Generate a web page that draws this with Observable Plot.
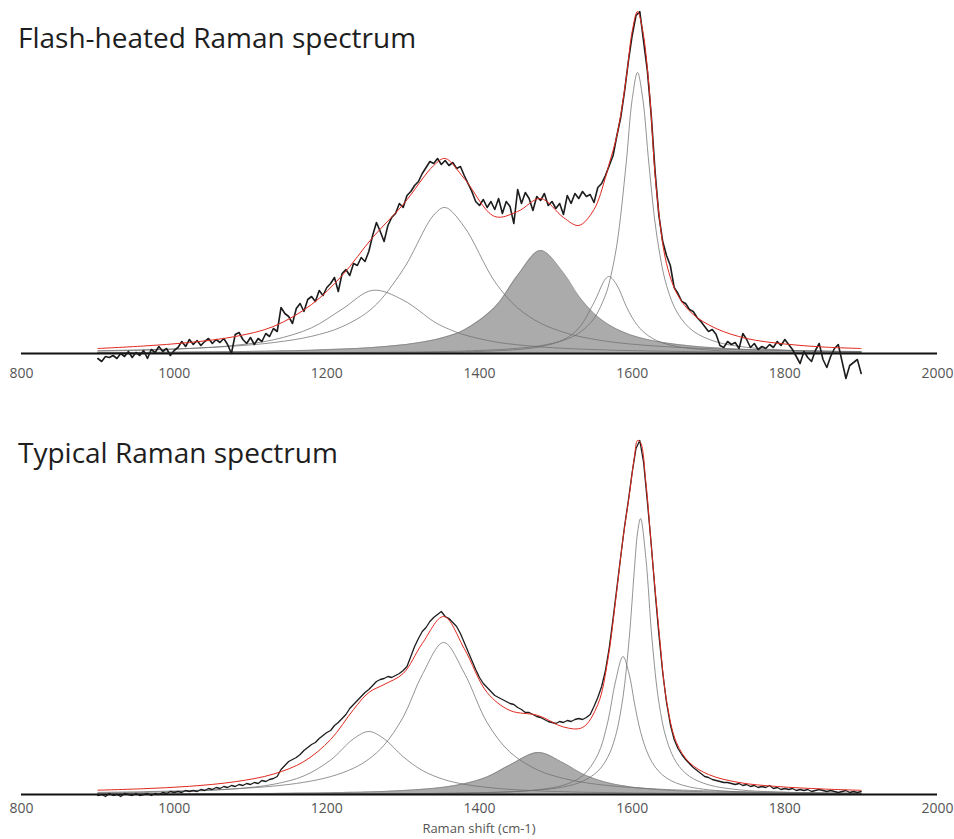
<!DOCTYPE html>
<html lang="en">
<head>
<meta charset="utf-8">
<script src="https://cdn.jsdelivr.net/npm/d3@7"></script>
<script src="https://cdn.jsdelivr.net/npm/@observablehq/plot@0.6"></script>
<style>
  html, body { margin: 0; padding: 0; background: #fff; }
  #wrap { position: relative; width: 954px; height: 839px; overflow: hidden; font-family: "Open Sans", sans-serif; }
  .panel { position: absolute; left: 0; }
  .ptitle { position: absolute; left: 18px; font-size: 28px; line-height: 1; color: #1e1e1e; white-space: nowrap; }
  #xtitle { position: absolute; left: 21px; width: 916px; text-align: center; font-size: 13px; line-height: 1; color: #555; }
</style>
</head>
<body>
<div id="wrap"></div>
<script>
// ---------- shared ----------
const xTicks = [800, 1000, 1200, 1400, 1600, 1800, 2000];
const panelTitles = ["Flash-heated Raman spectrum", "Typical Raman spectrum"];
const xTitle = "Raman shift (cm-1)";
const specStart = 900, specStep = 5;   // measured spectrum sampled every 5 cm-1 from 900

// ---------- panel 1 : flash-heated ----------
const xs1 = [900,960,1020,1080,1130,1180,1220,1260,1300,1340,1355,1380,1420,1450,1480,1510,1530,1550,1565,1570,1580,1592,1600,1607,1614,1622,1632,1645,1660,1680,1710,1750,1800,1850,1900];
const p1D4 = [2.4,3.3,5.0,8.2,13.7,25.7,44.3,63.2,53.4,32.0,26.0,18.7,11.7,8.7,6.6,5.2,4.5,3.9,3.6,3.4,3.2,3.0,2.9,2.8,2.7,2.5,2.4,2.3,2.1,1.9,1.7,1.4,1.2,1.0,0.8];
const p1D1 = [2.8,3.7,5.1,7.5,10.9,17.2,26.8,45.6,84.0,138.4,146,126.7,71.9,45.6,30.3,21.3,17.2,14.2,12.4,11.9,10.9,9.9,9.3,8.9,8.4,7.9,7.4,6.8,6.2,5.5,4.6,3.7,3.0,2.4,2.0];
const p1D3 = [0.9,1.1,1.5,1.9,2.5,3.3,4.4,6.0,8.7,13.6,16.5,23.6,46.2,78.2,103,80.6,57.4,40.0,30.9,28.5,24.3,20.3,18.1,16.5,15.0,13.6,12.1,10.4,8.9,7.3,5.6,4.1,3.0,2.2,1.7];
const p1D2 = [0.1,0.2,0.2,0.3,0.3,0.4,0.5,0.6,0.8,1.1,1.3,1.6,2.6,4.0,6.8,13.8,25.3,51.0,74.6,77,68.3,47.6,35.9,28.0,22.2,17.3,13.0,9.4,6.8,4.7,3.0,1.8,1.1,0.8,0.6];
const p1G  = [0.3,0.3,0.4,0.5,0.6,0.7,0.9,1.1,1.4,1.8,2.0,2.5,3.7,5.2,7.8,13.2,20.3,35.0,58.4,70.9,109.0,189.0,254.1,281,254.1,189.0,119.5,68.1,39.7,22.4,11.7,6.2,3.4,2.2,1.5];
const p1Fit = [5,7.5,11,17,27,49,78,116,149,188,195,175,137,142,155,136,128,144,176,190,218,274,322,342,322,268,162,90,58,39,25,15,9.5,6.5,5];
const spec1 = [
  -5,-8,-3,-4,-2,-5,0,-3,2,-4,1,-2,3,-5,4,1,7,2,5,-2,
  3,6,12,7,14,9,13,8,12,15,10,14,11,15,9,0,19,21,14,10,
  16,9,15,12,20,17,25,22,46,40,37,30,45,50,42,54,57,52,63,58,
  66,70,76,62,80,84,78,90,88,96,92,102,118,131,122,112,128,136,140,150,
  146,158,162,168,172,180,186,192,190,195,189,193,188,191,185,187,178,170,162,152,
  148,154,146,152,144,155,140,152,147,130,164,150,161,155,143,157,153,160,148,152,
  145,150,139,158,150,160,155,162,157,159,151,166,170,178,188,198,218,236,262,292,
  318,338,342,312,282,238,182,138,112,98,88,66,60,52,50,44,42,36,32,27,
  22,24,19,8,6,12,9,11,5,20,14,6,10,4,7,5,9,6,12,8,
  14,9,4,-3,-10,2,-4,-8,3,10,-6,-14,-3,5,9,-8,-25,-12,-9,-6,
  -20
];

// ---------- panel 2 : typical ----------
const xs2 = [900,960,1020,1080,1130,1170,1205,1235,1255,1275,1300,1325,1353,1380,1410,1440,1477,1510,1535,1555,1568,1578,1588,1596,1603,1607,1611,1618,1626,1635,1645,1658,1675,1700,1740,1790,1850,1900];
const p2D4 = [1.5,2.1,3.3,5.7,10.2,18.6,34.5,55.7,63,55.7,37.8,24.1,15.1,10.2,7.1,5.1,3.6,2.8,2.3,2.1,1.9,1.8,1.7,1.6,1.5,1.5,1.5,1.4,1.4,1.3,1.2,1.2,1.1,1.0,0.8,0.7,0.5,0.5];
const p2D1 = [2.1,2.8,3.9,5.7,8.4,12.2,17.9,26.3,35.4,49.3,77.4,119.8,152,121.6,71.9,42.3,24.2,16.1,12.3,10.1,9.0,8.3,7.6,7.2,6.8,6.6,6.4,6.1,5.7,5.4,5.0,4.6,4.2,3.6,2.9,2.3,1.8,1.5];
const p2D3 = [0.4,0.5,0.6,0.9,1.1,1.4,1.8,2.2,2.6,3.1,4.0,5.2,7.3,10.8,17.6,29.6,42,31.5,20.6,14.6,11.8,10.1,8.8,7.8,7.1,6.8,6.4,5.9,5.4,4.8,4.3,3.8,3.2,2.6,1.9,1.4,1.0,0.8];
const p2D2 = [0.1,0.2,0.2,0.2,0.3,0.4,0.4,0.5,0.6,0.6,0.7,0.9,1.1,1.4,1.9,2.7,4.8,9.3,18.7,39.8,72.4,112.5,138,120.5,91.4,75.9,62.7,45.4,32.3,23.0,16.5,11.4,7.6,4.7,2.6,1.5,0.9,0.6];
const p2G  = [0.2,0.2,0.2,0.3,0.3,0.4,0.5,0.6,0.6,0.7,0.8,1.0,1.2,1.5,2.0,2.7,4.4,7.6,13.2,23.3,37.3,57.9,97.5,155.2,226.0,261.5,276,236.0,155.2,92.2,55.2,31.9,18.2,9.7,4.7,2.5,1.4,1.0];
const p2Fit = [4.3,5.8,8.2,12.8,20.4,33,55,85,102,110,121,151,178,146,102,84,79,67.5,67,90,134,192,256,298,338,354,352,312,240,165,94,52,32,20,12,8,5.5,4.2];
const spec2 = [
  -1,0,-2,1,-1,0,-2,1,0,-1,1,-1,0,1,-1,1,0,2,1,3,
  2,3,2,4,3,4,3,5,4,6,5,7,6,8,7,9,8,10,9,11,
  10,12,11,14,13,15,16,18,25,29,33,35,37,40,44,47,50,52,56,59,
  62,64,69,72,76,80,86,90,94,98,102,105,109,113,115,116,118,117,119,121,
  124,128,138,148,156,163,167,173,177,180,183,178,176,172,168,161,152,143,134,125,
  117,111,107,103,99,97,95,93,91,90,87,85,82,82,80,78,77,75,73,72,
  71,73,72,74,73,75,76,75,77,80,88,97,108,124,147,176,207,238,268,294,
  322,346,354,332,292,250,203,160,122,92,70,55,46,40,35,31,27,24,21,18,
  17,15,14,13,12,12,11,10,11,9,10,8,9,7,8,7,9,6,7,5,
  6,5,6,4,5,4,5,3,4,5,4,3,4,3,2,3,4,2,3,2,
  3
];

// ---------- drawing ----------
function makePanel({xs, d4, d1, d3, d2, g, fit, spec, height, marginBottom, tickPadding, specWidth}) {
  const comp = xs.map((x, i) => ({x, d4: d4[i], d1: d1[i], d3: d3[i], d2: d2[i], g: g[i], fit: fit[i]}));
  const meas = spec.map((y, i) => ({x: specStart + i * specStep, y}));
  const curve = "catmull-rom";
  const thin = {stroke: "#6f6f6f", strokeWidth: 0.75, curve};
  return Plot.plot({
    width: 954,
    height,
    marginLeft: 21,
    marginRight: 17,
    marginTop: 0,
    marginBottom,
    x: {domain: [800, 2000], ticks: xTicks, tickFormat: d => String(d), tickSize: 0, tickPadding, label: null},
    y: {domain: [0, height - marginBottom], axis: null},
    style: {fontFamily: "'Open Sans', sans-serif", fontSize: "14px", color: "#555", background: "transparent", overflow: "visible"},
    marks: [
      Plot.areaY(comp, {x: "x", y: "d3", fill: "#ababab", curve}),
      Plot.line(comp, {x: "x", y: "d3", stroke: "#7d7d7d", strokeWidth: 0.7, curve}),
      Plot.line(comp, {x: "x", y: "d4", ...thin}),
      Plot.line(comp, {x: "x", y: "d1", ...thin}),
      Plot.line(comp, {x: "x", y: "d2", ...thin}),
      Plot.line(comp, {x: "x", y: "g", ...thin}),
      Plot.ruleY([0], {stroke: "#111", strokeWidth: 2}),
      Plot.line(meas, {x: "x", y: "y", stroke: "#1c1c1c", strokeWidth: specWidth, strokeLinejoin: "round"}),
      Plot.line(comp, {x: "x", y: "fit", stroke: "#e0281f", strokeWidth: 1, curve})
    ]
  });
}

const wrap = document.getElementById("wrap");

const svg1 = makePanel({xs: xs1, d4: p1D4, d1: p1D1, d3: p1D3, d2: p1D2, g: p1G, fit: p1Fit, spec: spec1,
  height: 400, marginBottom: 47, tickPadding: 15, specWidth: 1.6});
svg1.classList.add("panel");
svg1.style.top = "0px";
wrap.appendChild(svg1);

const svg2 = makePanel({xs: xs2, d4: p2D4, d1: p2D1, d3: p2D3, d2: p2D2, g: p2G, fit: p2Fit, spec: spec2,
  height: 439, marginBottom: 45, tickPadding: 9, specWidth: 1.3});
svg2.classList.add("panel");
svg2.style.top = "400px";
wrap.appendChild(svg2);

const tops = [23, 438];
panelTitles.forEach((t, i) => {
  const d = document.createElement("div");
  d.className = "ptitle";
  d.style.top = tops[i] + "px";
  d.textContent = t;
  wrap.appendChild(d);
});

const xt = document.createElement("div");
xt.id = "xtitle";
xt.style.top = "822px";
xt.textContent = xTitle;
wrap.appendChild(xt);
</script>
</body>
</html>
